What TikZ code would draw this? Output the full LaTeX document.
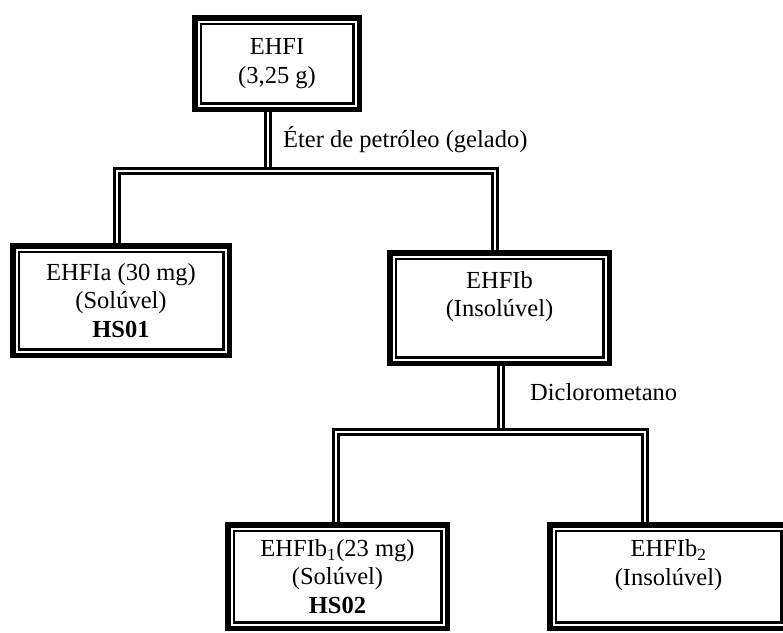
\documentclass[tikz,border=0pt]{standalone}
\usepackage{fontspec}
\setmainfont{Liberation Serif}
\usetikzlibrary{positioning,fit}

\tikzset{
	box/.style={draw, line width=2.5pt, inner sep=0pt, align=center, minimum width=#1},
	frame/.style={draw, line width=5.5pt, inner sep=4.75pt},
	link/.style={draw, line width=3.2pt, double=white, double distance=1.5pt},
	lbl/.style={anchor=base west, inner sep=0pt}
}

\begin{document}
\begin{tikzpicture}[x=1pt, y=1pt, font=\fontsize{24.5}{28.5}\selectfont]
		\useasboundingbox (0,0) rectangle (783,-632);
		
		% boxes
		\node[box=152.5pt, minimum height=79.5pt] (ehfi) at (277,-63.5) {EHFI\\(3,25 g)};
		\node[frame, fit=(ehfi)] (ehfi-f) {};
		
		\node[box=204.5pt, minimum height=97.5pt] (ehfia) at (121,-300.5) {EHFIa (30 mg)\\(Solúvel)\\\textbf{HS01}};
		\node[frame, fit=(ehfia)] (ehfia-f) {};
		
		\node[box=207.5pt, minimum height=98.5pt] (ehfib) at (499.5,-308) {EHFIb\\(Insolúvel)\\~};
		\node[frame, fit=(ehfib)] (ehfib-f) {};
		
		\node[box=207.5pt, minimum height=91.5pt] (ehfib1) at (337.5,-576.5) {EHFIb\textsubscript{1}(23 mg)\\(Solúvel)\\\textbf{HS02}};
		\node[frame, fit=(ehfib1)] (ehfib1-f) {};
		
		\node[box=225.5pt, minimum height=91.5pt] (ehfib2) at (668.5,-576.5) {EHFIb\textsubscript{2}\\(Insolúvel)\\~};
		\node[frame, fit=(ehfib2)] (ehfib2-f) {};
		
		% split points
		\coordinate (s1) at (268,-171);
		\coordinate (s1l) at (117,-171);
		\coordinate (s1r) at (495,-171);
		\coordinate (s2) at (501,-432);
		\coordinate (s2l) at (336,-432);
		\coordinate (s2r) at (645,-432);
		
		\draw[link] (ehfi-f.south -| s1) -- (s1);
		\draw[link] (ehfia-f.north -| s1l) -- (s1l) -- (s1r) -- (ehfib-f.north -| s1r);
		\draw[link] (ehfib-f.south -| s2) -- (s2);
		\draw[link] (ehfib1-f.north -| s2l) -- (s2l) -- (s2r) -- (ehfib2-f.north -| s2r);
		
		\node[lbl] (eter) at (283,-147) {Éter de petróleo (gelado)};
		\node[lbl] (dcm) at (530,-400) {Diclorometano};
	\end{tikzpicture}
\end{document}
